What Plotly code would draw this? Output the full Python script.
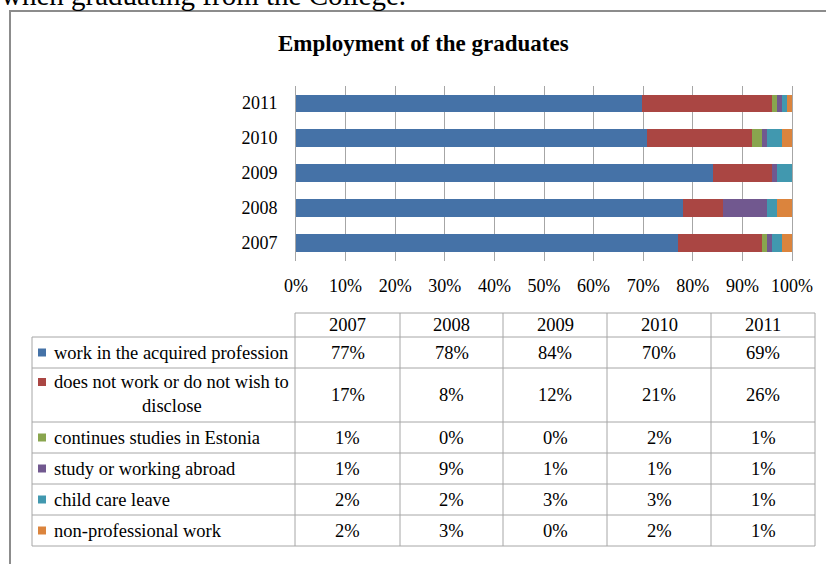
import plotly.graph_objects as go

# Graduate employment shares per year (percent)
years = ["2007", "2008", "2009", "2010", "2011"]
categories = [
    "work in the acquired profession",
    "does not work or do not wish to disclose",
    "continues studies in Estonia",
    "study or working abroad",
    "child care leave",
    "non-professional work",
]
work_in_profession = [77, 78, 84, 70, 69]
not_working = [17, 8, 12, 21, 26]
studies_estonia = [1, 0, 0, 2, 1]
abroad = [1, 9, 1, 1, 1]
child_care = [2, 2, 3, 3, 1]
non_professional = [2, 3, 0, 2, 1]
series = [work_in_profession, not_working, studies_estonia, abroad, child_care, non_professional]
x_ticks = list(range(0, 101, 10))

colors = ["#4572A7", "#AA4643", "#89A54E", "#71588F", "#4198AF", "#DB843D"]

W, H = 826, 564
SERIF = "Liberation Serif, Times New Roman, serif"
GRID = "#a6a6a6"
TABLE_FONT = 18.5


def px(x):
    return x / W


def py(y):
    return 1 - y / H


fig = go.Figure()
for name, vals, col in zip(categories, series, colors):
    fig.add_trace(go.Bar(
        y=years, x=vals, name=name, orientation="h",
        marker=dict(color=col, line=dict(width=0)),
        hoverinfo="x+name",
    ))

fig.update_layout(
    width=W, height=H,
    margin=dict(l=0, r=0, t=0, b=0, autoexpand=False),
    paper_bgcolor="white", plot_bgcolor="white",
    barmode="stack", barnorm="percent", bargap=0.514,
    showlegend=False,
    font=dict(family=SERIF, size=18, color="#000"),
    xaxis=dict(
        domain=[px(296), px(792)], range=[0, 100],
        tickvals=x_ticks, ticktext=[f"{t}%" for t in x_ticks],
        showgrid=True, gridcolor=GRID, gridwidth=1,
        zeroline=False, showline=False, ticks="",
        ticklabelstandoff=12, automargin=False,
        tickfont=dict(family=SERIF, size=18),
    ),
    yaxis=dict(
        domain=[py(260.5), py(85.5)],
        categoryorder="array", categoryarray=years,
        showgrid=False, zeroline=False,
        showline=True, mirror=True, linecolor=GRID, linewidth=1,
        ticks="", ticklabelstandoff=14, automargin=False,
        tickfont=dict(family=SERIF, size=18),
    ),
)

shapes = []
annotations = []

# outer frame of the chart object
shapes.append(dict(type="rect", xref="paper", yref="paper",
                   x0=px(10), x1=px(840), y0=py(590), y1=py(11),
                   line=dict(color="#8c8c8c", width=2), fillcolor="rgba(0,0,0,0)"))

# document text above the chart
annotations.append(dict(text="when graduating from the College.", xref="paper", yref="paper",
                        x=px(-1), y=py(13), xanchor="left", yanchor="bottom",
                        showarrow=False, font=dict(family=SERIF, size=29, color="#000")))

# chart title
annotations.append(dict(text="<b>Employment of the graduates</b>", xref="paper", yref="paper",
                        x=px(423), y=py(43), xanchor="center", yanchor="middle",
                        showarrow=False, font=dict(family=SERIF, size=23, color="#000")))

# data table geometry
col_edges = [295, 400, 503, 607, 711, 815]
label_left = 32
row_edges = [313, 337, 368, 422, 453, 484, 515, 546]


def hline(x0, x1, y):
    shapes.append(dict(type="line", xref="paper", yref="paper",
                       x0=px(x0), x1=px(x1), y0=py(y), y1=py(y),
                       line=dict(color=GRID, width=1)))


def vline(x, y0, y1):
    shapes.append(dict(type="line", xref="paper", yref="paper",
                       x0=px(x), x1=px(x), y0=py(y0), y1=py(y1),
                       line=dict(color=GRID, width=1)))


hline(col_edges[0], col_edges[-1], row_edges[0])
for y in row_edges[1:]:
    hline(label_left, col_edges[-1], y)
vline(label_left, row_edges[1], row_edges[-1])
for x in col_edges:
    vline(x, row_edges[0], row_edges[-1])


def text(s, x, y, anchor="center"):
    annotations.append(dict(text=s, xref="paper", yref="paper",
                            x=px(x), y=py(y), xanchor=anchor, yanchor="middle",
                            showarrow=False, font=dict(family=SERIF, size=TABLE_FONT)))


# header row with years
for i, yr in enumerate(years):
    text(yr, (col_edges[i] + col_edges[i + 1]) / 2, (row_edges[0] + row_edges[1]) / 2)

# body rows: legend key, label and values
for r, (name, vals, col) in enumerate(zip(categories, series, colors)):
    top, bot = row_edges[r + 1], row_edges[r + 2]
    cy = (top + bot) / 2
    if r == 1:
        words = name.split(" ")
        first_y = top + 14
        text(" ".join(words[:-1]), 52, first_y, "left")
        text(words[-1], 172, first_y + 24)
        key_y = first_y
    else:
        text(name, 52, cy, "left")
        key_y = cy
    shapes.append(dict(type="rect", xref="paper", yref="paper",
                       x0=px(38), x1=px(46), y0=py(key_y + 4), y1=py(key_y - 4),
                       line=dict(width=0), fillcolor=col))
    for i, v in enumerate(vals):
        text(f"{v}%", (col_edges[i] + col_edges[i + 1]) / 2, cy)

fig.update_layout(shapes=shapes, annotations=annotations)
fig.write_html("out.html")
